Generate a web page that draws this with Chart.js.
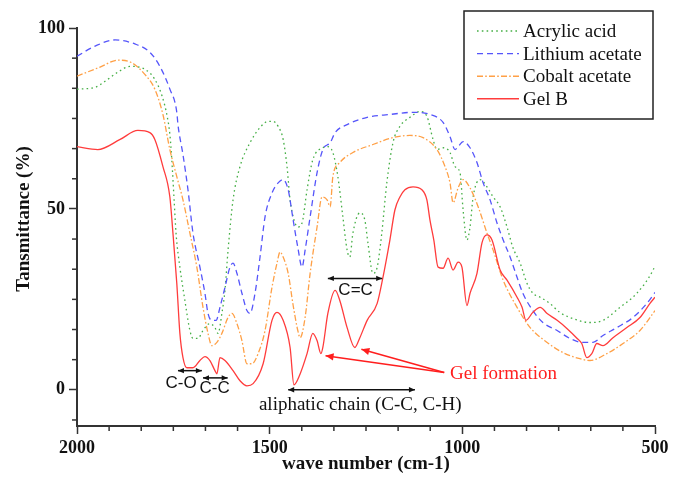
<!DOCTYPE html>
<html>
<head>
<meta charset="utf-8">
<script src="https://cdn.jsdelivr.net/npm/chart.js@4.4.1/dist/chart.umd.min.js"></script>
<style>
html,body{margin:0;padding:0;background:#fff;}
#wrap{width:680px;height:477px;position:relative;}
</style>
</head>
<body>
<div id="wrap"><canvas id="c" width="680" height="477"></canvas></div>
<script>
// ---- Data (wavenumber cm-1, transmittance %) ----
const seriesNames = ["Acrylic acid", "Lithium acetate", "Cobalt acetate", "Gel B"];

const acrylicWn = [2000,1953,1927,1894,1862,1824,1798,1779,1766,1759,1754,1748,1743,1733,1720,1707,1699,1686,1673,1655,1642,1634,1624,1616,1608,1595,1577,1551,1525,1504,1491,1478,1465,1455,1447,1439,1427,1416,1403,1388,1362,1349,1336,1323,1310,1299,1292,1284,1266,1253,1245,1232,1221,1209,1196,1180,1162,1136,1110,1092,1076,1066,1050,1032,1019,1006,998,988,980,972,954,936,920,902,884,869,850,832,817,798,773,747,713,669,635,591,547,505,500];
const acrylicT  = [83.1,83.6,85.3,87.8,89.4,88.6,85.8,81.1,75.6,70.6,63.6,52.5,43.3,33.9,24.7,16.4,14.2,14.2,16.4,18.3,17.2,15.6,21.1,27.5,38.6,52.5,61.7,68.3,72.5,74.2,74.2,72.8,69.2,61.7,52.5,47.8,45.0,46.1,55.3,63.6,66.9,67.2,65.6,58.9,47.8,38.6,36.7,43.3,48.9,46.9,40.6,32.2,33.9,43.3,57.2,68.3,72.8,75.3,76.9,75.6,69.2,66.4,66.9,65.6,61.7,60.0,49.7,41.4,45.0,53.3,58.1,56.1,53.3,50.6,45.0,39.4,35.0,29.4,26.7,25.6,23.9,21.4,19.7,18.6,19.2,22.8,26.7,33.1,34.4];

const lithiumWn = [2000,1953,1901,1850,1811,1785,1759,1741,1738,1725,1712,1699,1681,1668,1660,1650,1639,1629,1616,1603,1595,1585,1572,1559,1551,1538,1525,1512,1494,1478,1465,1452,1439,1427,1416,1408,1395,1377,1362,1343,1330,1299,1247,1188,1128,1084,1050,1032,1019,1011,998,980,962,946,928,910,894,876,858,843,817,791,754,721,687,661,635,599,557,521,500];
const lithiumT  = [92.2,95.0,96.7,95.6,93.3,89.4,83.1,76.7,73.3,65.0,55.3,43.3,33.9,26.7,21.1,19.2,19.2,22.8,28.3,33.9,35.0,32.2,26.7,21.9,21.1,26.7,36.7,47.8,54.4,57.2,58.1,55.3,46.9,39.4,33.9,38.6,47.8,60.0,66.4,68.3,71.1,73.3,75.3,76.1,76.7,76.1,73.9,70.0,66.4,67.2,68.6,66.9,62.8,57.2,52.5,46.1,41.4,36.7,31.1,26.7,21.9,18.6,16.4,14.2,13.1,13.1,15.0,17.2,20.0,23.9,26.9];

const cobaltWn = [2000,1940,1894,1862,1824,1798,1777,1759,1741,1725,1707,1689,1673,1660,1650,1637,1624,1608,1598,1585,1572,1559,1546,1530,1512,1494,1481,1473,1465,1452,1439,1427,1421,1408,1395,1377,1364,1351,1343,1336,1318,1284,1232,1180,1136,1102,1066,1045,1032,1024,1011,998,980,959,936,920,894,858,824,780,739,695,669,625,583,539,500];
const cobaltT  = [86.7,89.2,91.1,90.6,87.2,83.1,76.1,66.4,58.9,52.5,43.3,33.9,22.8,15.6,12.2,13.1,15.6,20.0,21.1,18.3,13.6,7.2,7.2,10.0,16.4,28.3,35.0,38.1,36.7,32.2,23.3,16.4,14.4,20.0,32.2,45.0,53.3,52.5,50.6,58.9,62.8,65.6,67.8,69.7,70.3,69.7,66.4,61.7,57.2,51.7,55.8,58.1,55.8,50.6,43.3,38.6,30.3,22.8,17.2,13.1,10.3,8.6,8.1,10.0,12.8,16.4,21.9];

const gelWn = [2000,1946,1888,1842,1811,1798,1777,1759,1751,1741,1733,1725,1715,1699,1681,1668,1655,1642,1637,1629,1616,1595,1577,1559,1543,1517,1494,1481,1465,1447,1437,1421,1403,1388,1377,1367,1362,1349,1330,1318,1299,1279,1266,1247,1221,1206,1188,1175,1162,1149,1128,1105,1092,1084,1074,1063,1050,1037,1024,1011,1001,988,980,962,949,936,923,902,884,858,845,835,817,798,780,754,728,702,690,677,664,651,635,609,573,539,513,500];
const gelT  = [67.2,66.4,69.2,71.7,71.1,69.2,61.7,53.3,43.3,29.4,15.6,8.9,6.1,6.1,8.1,9.2,8.1,5.3,4.4,8.9,8.1,5.3,2.5,1.1,1.7,7.2,19.2,21.4,19.2,11.7,1.4,4.4,10.0,15.6,13.6,10.0,11.7,21.1,27.5,24.7,17.2,11.7,14.4,19.2,23.9,31.1,41.4,49.7,53.3,55.3,56.1,55.3,52.5,46.9,41.4,33.9,33.6,36.4,33.1,35.3,33.9,23.3,26.7,32.2,40.6,42.8,41.4,33.1,30.3,25.6,22.8,19.2,21.4,22.8,21.1,19.2,16.9,14.2,12.8,8.9,10.0,12.8,12.2,14.4,17.2,20.0,23.9,25.6];

const xMajorTicks = [2000, 1500, 1000, 500];
const yMajorTicks = [0, 50, 100];

const colors = ["rgb(70,175,70)", "rgb(85,85,250)", "rgb(255,160,70)", "rgb(255,60,60)"];
const dashes = [[1.6,3.2],[6,4],[6,2.2,1.6,2.2],[]];

function pts(wn, t){ return wn.map((w,i)=>({x:w, y:t[i]})); }

const allSeries = [pts(acrylicWn, acrylicT), pts(lithiumWn, lithiumT), pts(cobaltWn, cobaltT), pts(gelWn, gelT)];

const datasets = allSeries.map((d,i)=>({
  label: seriesNames[i],
  data: d,
  borderColor: colors[i],
  backgroundColor: colors[i],
  borderWidth: 1.3,
  borderDash: dashes[i],
  pointRadius: 0,
  fill: false,
  cubicInterpolationMode: 'monotone',
  order: 4 - i
}));

const serif = "'Liberation Serif', 'Times New Roman', serif";
const sans = "'Liberation Sans', Arial, sans-serif";

function isMajor(v, step){ return Math.abs(v/step - Math.round(v/step)) < 1e-6; }

const extras = {
  id: 'extras',
  afterDraw(chart){
    const ctx = chart.ctx;
    const xs = chart.scales.x, ys = chart.scales.y;
    const X = v => xs.getPixelForValue(v), Y = v => ys.getPixelForValue(v);
    ctx.save();
    // minor ticks
    ctx.strokeStyle = '#333'; ctx.lineWidth = 1.5;
    xs.ticks.forEach(t=>{ if(!isMajor(t.value,500)){ const px=X(t.value); ctx.beginPath(); ctx.moveTo(px, ys.bottom); ctx.lineTo(px, ys.bottom+5); ctx.stroke(); }});
    ys.ticks.forEach(t=>{ if(!isMajor(t.value,50)){ const py=Y(t.value); ctx.beginPath(); ctx.moveTo(xs.left, py); ctx.lineTo(xs.left-5, py); ctx.stroke(); }});

    // y axis title
    ctx.save();
    ctx.translate(24, (ys.top + ys.bottom)/2 - 8);
    ctx.rotate(-Math.PI/2);
    ctx.font = 'bold 19px ' + serif; ctx.fillStyle = '#111';
    ctx.textAlign = 'center'; ctx.textBaseline = 'middle';
    ctx.fillText('Tansmittance (%)', 0, 0);
    ctx.restore();

    // arrows helper
    function arrowHead(x1,y1,x2,y2,color,size){
      const a = Math.atan2(y2-y1, x2-x1);
      ctx.fillStyle = color;
      ctx.beginPath();
      ctx.moveTo(x2,y2);
      ctx.lineTo(x2 - size*Math.cos(a) + size*0.45*Math.sin(a), y2 - size*Math.sin(a) - size*0.45*Math.cos(a));
      ctx.lineTo(x2 - size*Math.cos(a) - size*0.45*Math.sin(a), y2 - size*Math.sin(a) + size*0.45*Math.cos(a));
      ctx.closePath(); ctx.fill();
    }
    function dbl(w1,w2,t,color){
      const x1=X(w1), x2=X(w2), y=Y(t);
      ctx.strokeStyle=color; ctx.lineWidth=1.5;
      ctx.beginPath(); ctx.moveTo(x1,y); ctx.lineTo(x2,y); ctx.stroke();
      arrowHead(x2,y,x1,y,color,6); arrowHead(x1,y,x2,y,color,6);
    }
    function txt(s,w,t,font,color,align){
      ctx.font=font; ctx.fillStyle=color; ctx.textAlign=align||'center'; ctx.textBaseline='middle';
      ctx.fillText(s, X(w), Y(t));
    }
    const black = '#111';
    dbl(1738, 1676, 5.3, black);
    txt('C-O', 1730, 1.9, '17px '+sans, black);
    dbl(1673, 1609, 3.3, black);
    txt('C-C', 1643, 0.3, '17px '+sans, black);
    dbl(1349, 1208, 30.8, black);
    txt('C=C', 1277, 27.6, '17px '+sans, black);
    dbl(1452, 1123, 0, black);
    txt('aliphatic chain (C-C, C-H)', 1265, -4.3, '19px '+serif, black);
    // Gel formation
    const red = 'rgb(255,30,30)';
    txt('Gel formation', 1032, 4.5, '19px '+serif, red, 'left');
    ctx.strokeStyle=red; ctx.lineWidth=1.5;
    const sx = X(1047), sy = Y(4.8);
    [[1262,11.2],[1355,9.4]].forEach(p=>{
      const ex=X(p[0]), ey=Y(p[1]);
      ctx.beginPath(); ctx.moveTo(sx,sy); ctx.lineTo(ex,ey); ctx.stroke();
      arrowHead(sx,sy,ex,ey,red,8);
    });

    // legend
    const lx=464, ly=11, lw=189, lh=108;
    ctx.fillStyle='#fff'; ctx.fillRect(lx,ly,lw,lh);
    ctx.strokeStyle='#222'; ctx.lineWidth=1.5; ctx.setLineDash([]);
    ctx.strokeRect(lx,ly,lw,lh);
    chart.data.datasets.forEach((ds,i)=>{
      const y = 31 + i*22.6;
      ctx.strokeStyle=ds.borderColor; ctx.lineWidth=1.4; ctx.setLineDash(ds.borderDash);
      ctx.beginPath(); ctx.moveTo(477,y); ctx.lineTo(519,y); ctx.stroke();
      ctx.setLineDash([]);
      ctx.font='19px '+serif; ctx.fillStyle='#111'; ctx.textAlign='left'; ctx.textBaseline='middle';
      ctx.fillText(ds.label, 523, y+1);
    });
    ctx.restore();
  }
};

new Chart(document.getElementById('c'), {
  type: 'line',
  data: { datasets },
  options: {
    responsive: false,
    animation: false,
    layout: { padding: { top: 28, right: 25, left: 0, bottom: 0 } },
    plugins: { legend: { display: false }, tooltip: { enabled: false } },
    scales: {
      x: {
        type: 'linear', reverse: true, min: 500, max: 2000, position: 'bottom',
        afterBuildTicks: s => { const t=[]; for(let k=0;k<=18;k++) t.push({value: 500 + k*500/6}); s.ticks = t; },
        afterFit: s => { s.height = 51; },
        ticks: {
          autoSkip: false, maxRotation: 0, padding: 4, color: '#111',
          font: { family: serif, size: 18, weight: 'bold' },
          callback: v => xMajorTicks.some(m => Math.abs(m - v) < 1e-6) ? String(Math.round(v)) : ''
        },
        grid: { drawOnChartArea: false, drawTicks: true, tickLength: 8, tickWidth: 1.5,
          tickColor: c => (c.tick && isMajor(c.tick.value,500)) ? '#333' : 'rgba(0,0,0,0)' },
        border: { display: true, color: '#333', width: 2 },
        title: { display: true, text: 'wave number (cm-1)', color: '#111',
          font: { family: serif, size: 19, weight: 'bold' }, padding: { top: 0, bottom: 2 } }
      },
      y: {
        type: 'linear', min: -10, max: 100,
        afterBuildTicks: s => { const t=[]; for(let k=-1;k<=12;k++) t.push({value: k*50/6}); s.ticks = t; },
        afterFit: s => { s.width = 77; },
        ticks: {
          autoSkip: false, padding: 4, color: '#111',
          font: { family: serif, size: 18, weight: 'bold' },
          callback: v => yMajorTicks.some(m => Math.abs(m - v) < 1e-6) ? String(Math.round(v)) : ''
        },
        grid: { drawOnChartArea: false, drawTicks: true, tickLength: 8, tickWidth: 1.5,
          tickColor: c => (c.tick && isMajor(c.tick.value,50)) ? '#333' : 'rgba(0,0,0,0)' },
        border: { display: true, color: '#333', width: 2 },
        title: { display: false }
      }
    }
  },
  plugins: [extras]
});
</script>
</body>
</html>
